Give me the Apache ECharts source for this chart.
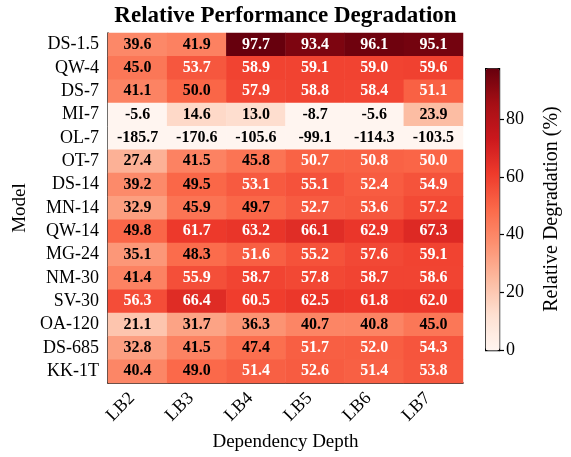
<!DOCTYPE html>
<html>
<head>
<meta charset="utf-8">
<script src="https://cdn.jsdelivr.net/npm/echarts@6/dist/echarts.min.js"></script>
<style>
  html, body { margin: 0; padding: 0; background: #ffffff; }
  #chart { width: 571px; height: 457px; }
</style>
</head>
<body>
<div id="chart"></div>
<script>
// data
var depths = ['LB2', 'LB3', 'LB4', 'LB5', 'LB6', 'LB7'];
var models = ['DS-1.5', 'QW-4', 'DS-7', 'MI-7', 'OL-7', 'OT-7', 'DS-14', 'MN-14',
              'QW-14', 'MG-24', 'NM-30', 'SV-30', 'OA-120', 'DS-685', 'KK-1T'];
var degradation = [
  [39.6, 41.9, 97.7, 93.4, 96.1, 95.1],
  [45.0, 53.7, 58.9, 59.1, 59.0, 59.6],
  [41.1, 50.0, 57.9, 58.8, 58.4, 51.1],
  [-5.6, 14.6, 13.0, -8.7, -5.6, 23.9],
  [-185.7, -170.6, -105.6, -99.1, -114.3, -103.5],
  [27.4, 41.5, 45.8, 50.7, 50.8, 50.04],
  [39.2, 49.5, 53.1, 55.1, 52.4, 54.9],
  [32.9, 45.9, 49.7, 52.7, 53.6, 57.2],
  [49.8, 61.7, 63.2, 66.1, 62.9, 67.3],
  [35.1, 48.3, 51.6, 55.2, 57.6, 59.1],
  [41.4, 55.9, 58.7, 57.8, 58.7, 58.6],
  [56.3, 66.4, 60.5, 62.5, 61.8, 62.0],
  [21.1, 31.7, 36.3, 40.7, 40.8, 45.0],
  [32.8, 41.5, 47.4, 51.7, 52.0, 54.3],
  [40.4, 49.0, 51.4, 52.6, 51.4, 53.8]
];
var colorMin = 0;
var colorMax = 97.7;
var colorTicks = [0, 20, 40, 60, 80];
var reds = ['#fff5f0', '#fee0d2', '#fcbba1', '#fc9272', '#fb6a4a', '#ef3b2c', '#cb181d', '#a50f15', '#67000d'];

var font = 'Liberation Serif';

// colour value is clipped to the colour range, label shows the real number
var cells = [];
for (var r = 0; r < models.length; r++) {
  for (var c = 0; c < depths.length; c++) {
    var v = degradation[r][c];
    cells.push([c, r, Math.min(Math.max(v, colorMin), colorMax)]);
  }
}

var cellText = { fontFamily: font, fontSize: 16, fontWeight: 'bold' };

var chart = echarts.init(document.getElementById('chart'));
chart.setOption({
  backgroundColor: '#ffffff',
  animation: false,
  title: {
    text: 'Relative Performance Degradation',
    left: 'center',
    top: 0,
    textStyle: { fontFamily: font, fontSize: 23, fontWeight: 'bold', color: '#000' }
  },
  grid: [
    { left: 108, top: 33, width: 355, height: 352 },
    { left: 485, top: 68, width: 14, height: 282 }
  ],
  xAxis: [
    {
      type: 'category', gridIndex: 0, data: depths,
      name: 'Dependency Depth', nameLocation: 'middle', nameGap: 50,
      nameTextStyle: { fontFamily: font, fontSize: 19, color: '#000' },
      axisLine: { lineStyle: { color: '#000', width: 1.5 } },
      axisTick: { show: false },
      axisLabel: {
        rotate: 45, margin: 7, padding: [0, 8, 0, 0],
        fontFamily: font, fontSize: 18, color: '#000'
      },
      splitArea: { show: false }
    },
    {
      type: 'category', gridIndex: 1, data: [''],
      axisLine: { show: false }, axisTick: { show: false }, axisLabel: { show: false }
    }
  ],
  yAxis: [
    {
      type: 'category', gridIndex: 0, data: models, inverse: true,
      name: 'Model', nameLocation: 'middle', nameGap: 73,
      nameTextStyle: { fontFamily: font, fontSize: 19, color: '#000' },
      axisLine: { lineStyle: { color: '#000', width: 1.5 } },
      axisTick: { show: false },
      axisLabel: { interval: 0, margin: 9, fontFamily: font, fontSize: 18, color: '#000' }
    },
    {
      type: 'value', gridIndex: 1, position: 'right',
      min: colorMin, max: colorMax,
      name: 'Relative Degradation (%)', nameLocation: 'middle', nameGap: 43,
      nameTextStyle: { fontFamily: font, fontSize: 20, color: '#000' },
      axisLine: { show: false },
      axisTick: { show: true, length: 5, customValues: colorTicks, lineStyle: { color: '#000', width: 1.2 } },
      axisLabel: { margin: 7, customValues: colorTicks, fontFamily: font, fontSize: 18, color: '#000' },
      splitLine: { show: false }
    }
  ],
  visualMap: {
    type: 'continuous',
    seriesIndex: 0,
    dimension: 2,
    min: colorMin,
    max: colorMax,
    inRange: { color: reds },
    calculable: false,
    text: ['', ''],
    itemWidth: 14,
    itemHeight: 282,
    left: 485,
    top: 68,
    padding: 0,
    borderColor: '#000',
    borderWidth: 1.2,
    showLabel: false
  },
  series: [
    {
      type: 'heatmap',
      xAxisIndex: 0, yAxisIndex: 0,
      data: cells,
      label: {
        show: true,
        formatter: function (p) {
          var v = degradation[p.value[1]][p.value[0]];
          return (v > 50 ? '{w|' : '{k|') + v.toFixed(1) + '}';
        },
        rich: {
          w: Object.assign({ color: '#ffffff' }, cellText),
          k: Object.assign({ color: '#000000' }, cellText)
        }
      },
      itemStyle: { borderWidth: 0 }
    }
  ]
});
</script>
</body>
</html>
